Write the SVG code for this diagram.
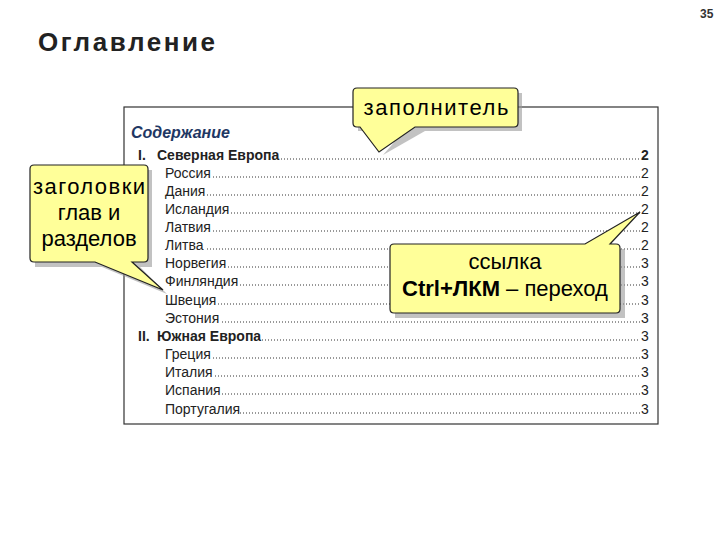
<svg xmlns="http://www.w3.org/2000/svg" width="720" height="540" viewBox="0 0 720 540">
<defs>
<style>
.t{font-family:"Liberation Sans",Arial,sans-serif;font-size:14px;fill:#222}
.b{font-weight:bold}
.d{stroke:#333;stroke-width:1;stroke-dasharray:1 2}
.c{fill:#ffff99;stroke:#222;stroke-width:1.2}
.s{fill:#999;opacity:.6}
.ct{font-family:"Liberation Sans",Arial,sans-serif;font-size:22px;fill:#000;text-anchor:middle}
</style>
</defs>
<rect width="720" height="540" fill="#fff"/>
<text x="700" y="18" font-family="Liberation Sans,Arial,sans-serif" font-size="12" font-weight="bold" fill="#333">35</text>
<text x="38" y="51" font-family="Liberation Sans,Arial,sans-serif" font-size="26" font-weight="bold" fill="#222" textLength="177" lengthAdjust="spacing">Оглавление</text>
<g id="toc">
<rect x="124" y="107" width="534" height="317" fill="#fff" stroke="#333" stroke-width="1.2"/>
<text x="131" y="138" font-family="Liberation Sans,Arial,sans-serif" font-size="16" font-weight="bold" font-style="italic" fill="#1f3864">Содержание</text>
<g class="t">
<text x="138" y="160" class="b">I.</text><text x="157" y="160" class="b">Северная Европа</text><text x="641" y="160" class="b">2</text>
<text x="165" y="178">Россия</text><text x="641" y="178">2</text>
<text x="165" y="196">Дания</text><text x="641" y="196">2</text>
<text x="165" y="214">Исландия</text><text x="641" y="214">2</text>
<text x="165" y="232">Латвия</text><text x="641" y="232">2</text>
<text x="165" y="250">Литва</text><text x="641" y="250">2</text>
<text x="165" y="268">Норвегия</text><text x="641" y="268">3</text>
<text x="165" y="286">Финляндия</text><text x="641" y="286">3</text>
<text x="165" y="305">Швеция</text><text x="641" y="305">3</text>
<text x="165" y="323">Эстония</text><text x="641" y="323">3</text>
<text x="138" y="341" class="b">II.</text><text x="157" y="341" class="b">Южная Европа</text><text x="641" y="341">3</text>
<text x="165" y="359">Греция</text><text x="641" y="359">3</text>
<text x="165" y="377">Италия</text><text x="641" y="377">3</text>
<text x="165" y="395">Испания</text><text x="641" y="395">3</text>
<text x="165" y="414">Португалия</text><text x="641" y="414">3</text>
</g>
<g class="d">
<line x1="281" y1="159" x2="640" y2="159"/>
<line x1="213" y1="177" x2="640" y2="177"/>
<line x1="207" y1="195" x2="640" y2="195"/>
<line x1="231" y1="213" x2="640" y2="213"/>
<line x1="213" y1="231" x2="640" y2="231"/>
<line x1="207" y1="249" x2="640" y2="249"/>
<line x1="228" y1="267" x2="640" y2="267"/>
<line x1="240" y1="285" x2="640" y2="285"/>
<line x1="218" y1="304" x2="640" y2="304"/>
<line x1="222" y1="322" x2="640" y2="322"/>
<line x1="262" y1="340" x2="640" y2="340"/>
<line x1="213" y1="358" x2="640" y2="358"/>
<line x1="215" y1="376" x2="640" y2="376"/>
<line x1="222" y1="394" x2="640" y2="394"/>
<line x1="240" y1="413" x2="640" y2="413"/>
</g>
</g>
<g id="callout-filler">
<path class="s" d="M358 93 H522 V131 H425 L383 155 L404 131 H358 Z"/>
<path class="c" d="M357 88 H514 Q518 88 518 92 V123 Q518 127 514 127 H415 L379 152 L360 127 H357 Q353 127 353 123 V92 Q353 88 357 88 Z"/>
<text class="ct" x="436" y="115" textLength="145" lengthAdjust="spacing">заполнитель</text>
</g>
<g id="callout-headings">
<path class="s" d="M35 170 H152 V267 H140 L167 294 L102 267 H35 Z"/>
<path class="c" d="M34 165 H144 Q148 165 148 169 V258 Q148 262 144 262 H132 L163 290 L95 262 H34 Q30 262 30 258 V169 Q30 165 34 165 Z"/>
<text class="ct" x="89" y="194" textLength="112" lengthAdjust="spacing">заголовки</text>
<text class="ct" x="89" y="220">глав и</text>
<text class="ct" x="89" y="246">разделов</text>
</g>
<g id="callout-link">
<path class="s" d="M395 249 H625 V318 H395 Z"/>
<path class="c" d="M394 244 H585 L640 212 L610 244 H616 Q620 244 620 248 V309 Q620 313 616 313 H394 Q390 313 390 309 V248 Q390 244 394 244 Z"/>
<text class="ct" x="505" y="269">ссылка</text>
<text class="ct" x="505" y="296"><tspan font-weight="bold">Ctrl+ЛКМ</tspan> – переход</text>
</g>
</svg>
